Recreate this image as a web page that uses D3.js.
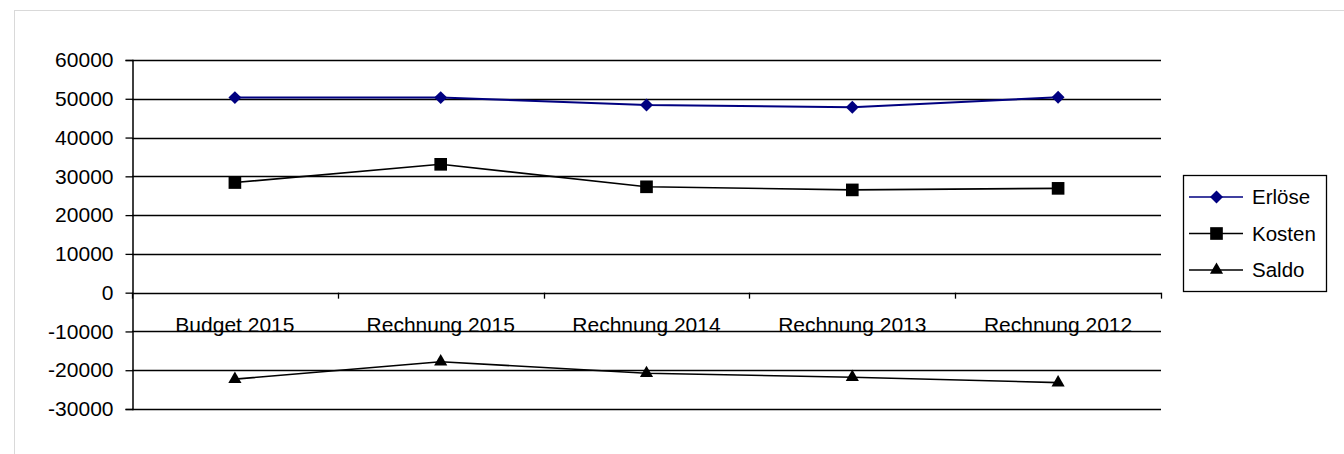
<!DOCTYPE html>
<html>
<head>
<meta charset="utf-8">
<script src="https://cdn.jsdelivr.net/npm/d3@7.9.0/dist/d3.min.js"></script>
<style>
  body { margin: 0; background: #fff; }
  svg { display: block; font-family: "Liberation Sans", Arial, sans-serif; }
</style>
</head>
<body>
<svg id="chart" width="1344" height="454"></svg>
<script>
// chart data
const categories = ['Budget 2015', 'Rechnung 2015', 'Rechnung 2014', 'Rechnung 2013', 'Rechnung 2012'];
const erloese = [50300, 50300, 48400, 47800, 50400];
const kosten = [28400, 33100, 27300, 26500, 26900];
const saldo = [-22300, -17800, -20800, -21800, -23200];
const yTicks = [60000, 50000, 40000, 30000, 20000, 10000, 0, -10000, -20000, -30000];

const series = [
  { name: 'Erlöse', values: erloese, color: '#000080', width: 2, symbol: d3.symbolSquare, size: 84, rot: 45 },
  { name: 'Kosten', values: kosten, color: '#000000', width: 1.6, symbol: d3.symbolSquare, size: 160, rot: 0 },
  { name: 'Saldo', values: saldo, color: '#000000', width: 1.6, symbol: d3.symbolTriangle, size: 75, rot: 0 }
];

const svg = d3.select('#chart');

// outer frame (only top/left visible)
svg.append('rect')
  .attr('x', 14.5).attr('y', 10.5)
  .attr('width', 1400).attr('height', 500)
  .attr('fill', 'none').attr('stroke', '#d9d9d9').attr('stroke-width', 1);

const plotLeft = 132, plotRight = 1161, plotTop = 60, plotBottom = 409;

let x = d3.scaleBand().domain(categories).range([plotLeft, plotRight]);
let y = d3.scaleLinear().domain([-30000, 60000]).range([plotBottom, plotTop]);

// gridlines
svg.append('g')
  .selectAll('line')
  .data(yTicks)
  .join('line')
  .attr('x1', plotLeft).attr('x2', plotRight)
  .attr('y1', (d) => Math.round(y(d)) + 0.5)
  .attr('y2', (d) => Math.round(y(d)) + 0.5)
  .attr('stroke', '#000').attr('stroke-width', 1.3);

// y axis
let yAxis = svg.append('g')
  .attr('transform', `translate(${plotLeft + 0.5},0)`)
  .call(d3.axisLeft(y).tickValues(yTicks).tickSize(7).tickPadding(12).tickFormat(d3.format('d')));
yAxis.select('.domain').attr('stroke', '#000').attr('stroke-width', 1.5);
yAxis.selectAll('.tick line').attr('stroke', '#000').attr('stroke-width', 1.3);
yAxis.selectAll('.tick text')
  .attr('fill', '#000')
  .style('font-size', '21px')
  .text((d) => d < 0 ? '-' + Math.abs(d) : d);

// x axis ticks on zero line at band boundaries
let bounds = categories.map((c) => x(c)).concat([plotRight]);
svg.append('g')
  .selectAll('line')
  .data(bounds)
  .join('line')
  .attr('x1', (d) => Math.round(d) + 0.5).attr('x2', (d) => Math.round(d) + 0.5)
  .attr('y1', y(0)).attr('y2', y(0) + 6)
  .attr('stroke', '#000').attr('stroke-width', 1.3);

// category labels
svg.append('g')
  .selectAll('text')
  .data(categories)
  .join('text')
  .attr('x', (d) => x(d) + x.bandwidth() / 2)
  .attr('y', 332)
  .attr('text-anchor', 'middle')
  .style('font-size', '21px')
  .text((d) => d);

// lines and markers
let line = d3.line()
  .x((d, i) => x(categories[i]) + x.bandwidth() / 2)
  .y((d) => y(d));

series.forEach((s) => {
  svg.append('path')
    .attr('d', line(s.values))
    .attr('fill', 'none')
    .attr('stroke', s.color)
    .attr('stroke-width', s.width);

  svg.append('g')
    .selectAll('path')
    .data(s.values)
    .join('path')
    .attr('transform', (d, i) => `translate(${x(categories[i]) + x.bandwidth() / 2},${y(d)}) rotate(${s.rot})`)
    .attr('d', d3.symbol().type(s.symbol).size(s.size))
    .attr('fill', s.color);
});

// legend
let legend = svg.append('g');
legend.append('rect')
  .attr('x', 1183.5).attr('y', 175.5)
  .attr('width', 143).attr('height', 116)
  .attr('fill', '#fff').attr('stroke', '#000').attr('stroke-width', 1.3);

let legendY = [197, 233.5, 270];
series.forEach((s, i) => {
  let g = legend.append('g').attr('transform', `translate(0,${legendY[i]})`);
  g.append('line')
    .attr('x1', 1189).attr('x2', 1243)
    .attr('stroke', s.color).attr('stroke-width', 1.6);
  g.append('path')
    .attr('transform', `translate(1216.5,0) rotate(${s.rot})`)
    .attr('d', d3.symbol().type(s.symbol).size(s.size))
    .attr('fill', s.color);
  g.append('text')
    .attr('x', 1252).attr('y', 7)
    .style('font-size', '20.5px')
    .text(s.name);
});
</script>
</body>
</html>
